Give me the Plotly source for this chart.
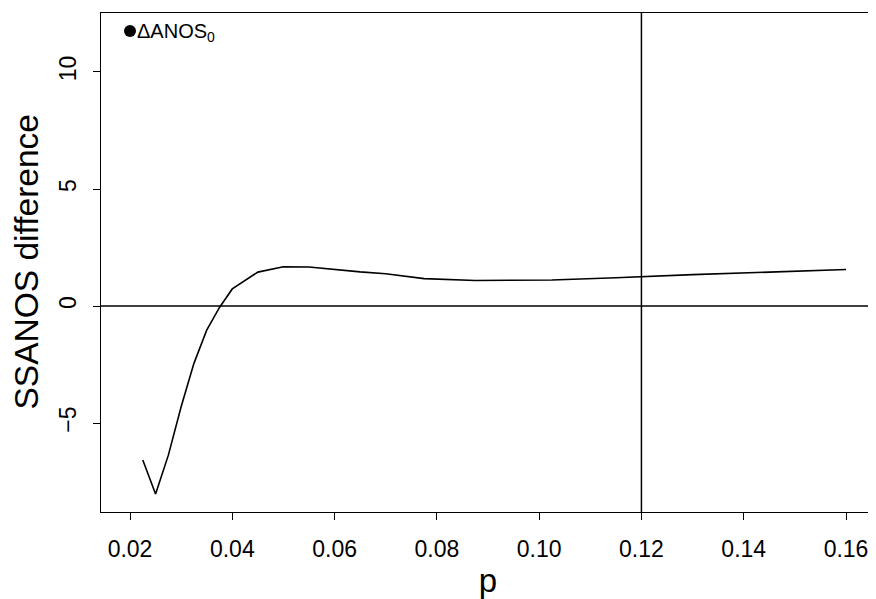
import plotly.graph_objects as go

p_vals = [0.0225, 0.025, 0.0275, 0.03, 0.0325, 0.035, 0.0375, 0.04, 0.045, 0.05,
          0.055, 0.06, 0.065, 0.07, 0.0775, 0.0875, 0.095, 0.1025, 0.115, 0.12,
          0.13, 0.145, 0.16]
ssanos_diff = [-6.58, -8.03, -6.37, -4.30, -2.45, -1.03, -0.06, 0.73, 1.45, 1.68,
               1.67, 1.56, 1.46, 1.38, 1.17, 1.09, 1.11, 1.11, 1.21, 1.26,
               1.34, 1.45, 1.56]
anos0_p = [0.02]
anos0_val = [11.75]
vline_p = 0.12
hline_val = 0.0
x_ticks = [0.02, 0.04, 0.06, 0.08, 0.10, 0.12, 0.14, 0.16]
x_tick_text = ["0.02", "0.04", "0.06", "0.08", "0.10", "0.12", "0.14", "0.16"]
y_ticks = [-5, 0, 5, 10]
y_tick_text = ["\u22125", "0", "5", "10"]

FONT = "Liberation Sans, Arial, Helvetica, sans-serif"

fig = go.Figure()
fig.add_trace(go.Scatter(x=p_vals, y=ssanos_diff, mode="lines",
                         line=dict(color="black", width=1.6), showlegend=False,
                         hoverinfo="skip"))
fig.add_trace(go.Scatter(x=anos0_p, y=anos0_val, mode="markers",
                         marker=dict(color="black", size=12), showlegend=False))

fig.add_shape(type="line", xref="x", yref="paper", x0=vline_p, x1=vline_p, y0=0, y1=1,
              line=dict(color="black", width=1.5))
fig.add_shape(type="line", xref="paper", yref="y", x0=0, x1=1, y0=hline_val, y1=hline_val,
              line=dict(color="black", width=1.5))

fig.add_annotation(x=anos0_p[0], y=anos0_val[0], text="\u0394ANOS<sub>0</sub>",
                   showarrow=False, xanchor="left", yanchor="middle", xshift=5, yshift=-1,
                   font=dict(family=FONT, size=20, color="black"))

# y-axis title as a rotated annotation for precise placement
fig.add_annotation(x=0, y=0.5, xref="paper", yref="paper", text="SSANOS difference",
                   textangle=-90, showarrow=False, xanchor="center", yanchor="middle",
                   xshift=-75, font=dict(family=FONT, size=33.5, color="black"))

# The page body has an 8px margin, so the figure is sized/offset to compensate.
fig.update_layout(
    width=868, height=591,
    margin=dict(l=93, r=1, t=5, b=87, autoexpand=False),
    plot_bgcolor="white", paper_bgcolor="white",
    font=dict(family=FONT, color="black"),
)
fig.update_xaxes(range=[0.01433, 0.16567], tickmode="array", tickvals=x_ticks,
                 ticktext=x_tick_text, ticks="outside", ticklen=7, tickcolor="black",
                 tickwidth=1, showline=True, linecolor="black", linewidth=1.2, mirror=True,
                 showgrid=False, zeroline=False, automargin=False, ticklabelstandoff=9,
                 tickfont=dict(size=23, family=FONT),
                 title=dict(text="p", font=dict(size=33, family=FONT), standoff=11))
fig.update_yaxes(range=[-8.8, 12.52], tickmode="array", tickvals=y_ticks,
                 ticktext=y_tick_text, ticks="outside", ticklen=7, tickcolor="black",
                 tickwidth=1, showline=True, linecolor="black", linewidth=1.2, mirror=True,
                 showgrid=False, zeroline=False, tickangle=-90, automargin=False,
                 ticklabelstandoff=8,
                 tickfont=dict(size=23, family=FONT))

fig.write_html("out.html")
